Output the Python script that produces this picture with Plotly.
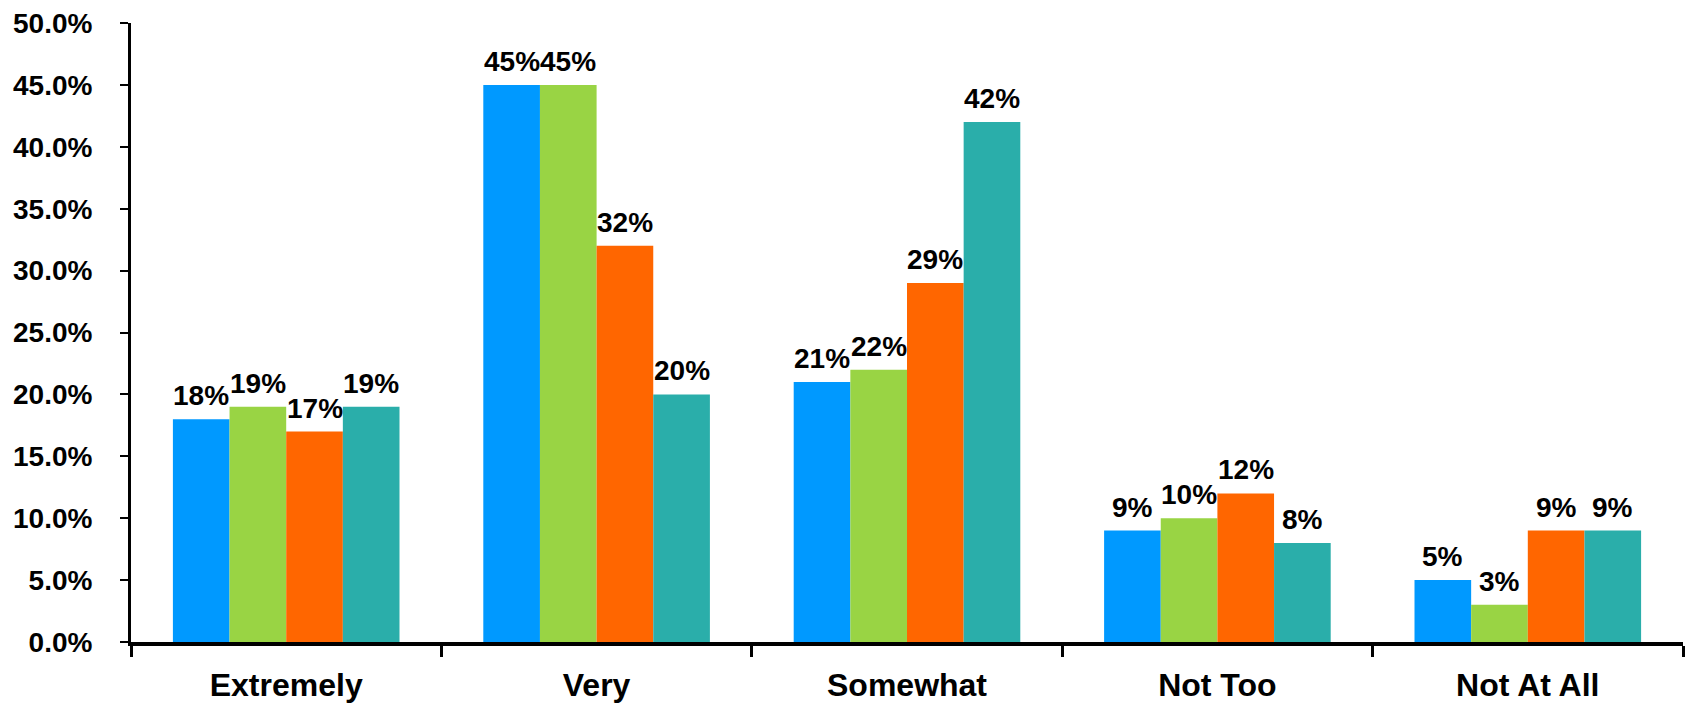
import plotly.graph_objects as go

categories = ["Extremely", "Very", "Somewhat", "Not Too", "Not At All"]
series_names = ["Series 1", "Series 2", "Series 3", "Series 4"]
series1 = [18, 45, 21, 9, 5]
series2 = [19, 45, 22, 10, 3]
series3 = [17, 32, 29, 12, 9]
series4 = [19, 20, 42, 8, 9]
colors = ["#0099FF", "#99D444", "#FF6600", "#2AAEAA"]
y_ticks = [0, 5, 10, 15, 20, 25, 30, 35, 40, 45, 50]
y_tick_labels = ["0.0%", "5.0%", "10.0%", "15.0%", "20.0%", "25.0%",
                 "30.0%", "35.0%", "40.0%", "45.0%", "50.0%"]

all_series = [series1, series2, series3, series4]
BARGAP = 0.27
FONT = "Liberation Sans, Arial, sans-serif"

fig = go.Figure()
for name, vals, col in zip(series_names, all_series, colors):
    fig.add_trace(go.Bar(
        x=categories, y=vals, name=name,
        marker=dict(color=col, line=dict(width=0)),
        hoverinfo="x+y",
    ))

# data labels above each bar
n = len(all_series)
w = (1 - BARGAP) / n
for j, vals in enumerate(all_series):
    for i, v in enumerate(vals):
        fig.add_annotation(
            x=i + (j - (n - 1) / 2) * w, y=v, xref="x", yref="y",
            text=f"{v}%", showarrow=False, yanchor="bottom", xanchor="center",
            yshift=6,
            font=dict(family=FONT, size=28, color="black", weight="bold"),
        )

fig.update_layout(
    width=1688, height=708,
    barmode="group", bargap=BARGAP, bargroupgap=0,
    showlegend=False,
    plot_bgcolor="white", paper_bgcolor="white",
    margin=dict(l=131, r=5, t=23, b=63),
    font=dict(family=FONT, color="black"),
)
fig.update_xaxes(
    type="category", range=[-0.5, 4.5],
    showline=True, linecolor="black", linewidth=4,
    ticks="outside", tickson="boundaries", ticklen=11, tickwidth=3, tickcolor="black",
    ticklabelstandoff=12,
    tickfont=dict(family=FONT, size=32, color="black", weight="bold"),
    showgrid=False, zeroline=False,
)
fig.update_yaxes(
    range=[0, 50], tickmode="array", tickvals=y_ticks, ticktext=y_tick_labels,
    showline=True, linecolor="black", linewidth=3,
    ticks="outside", ticklen=8, tickwidth=2, tickcolor="black",
    ticklabelstandoff=22,
    tickfont=dict(family=FONT, size=28, color="black", weight="bold"),
    showgrid=False, zeroline=False,
)

fig.write_html("out.html")
